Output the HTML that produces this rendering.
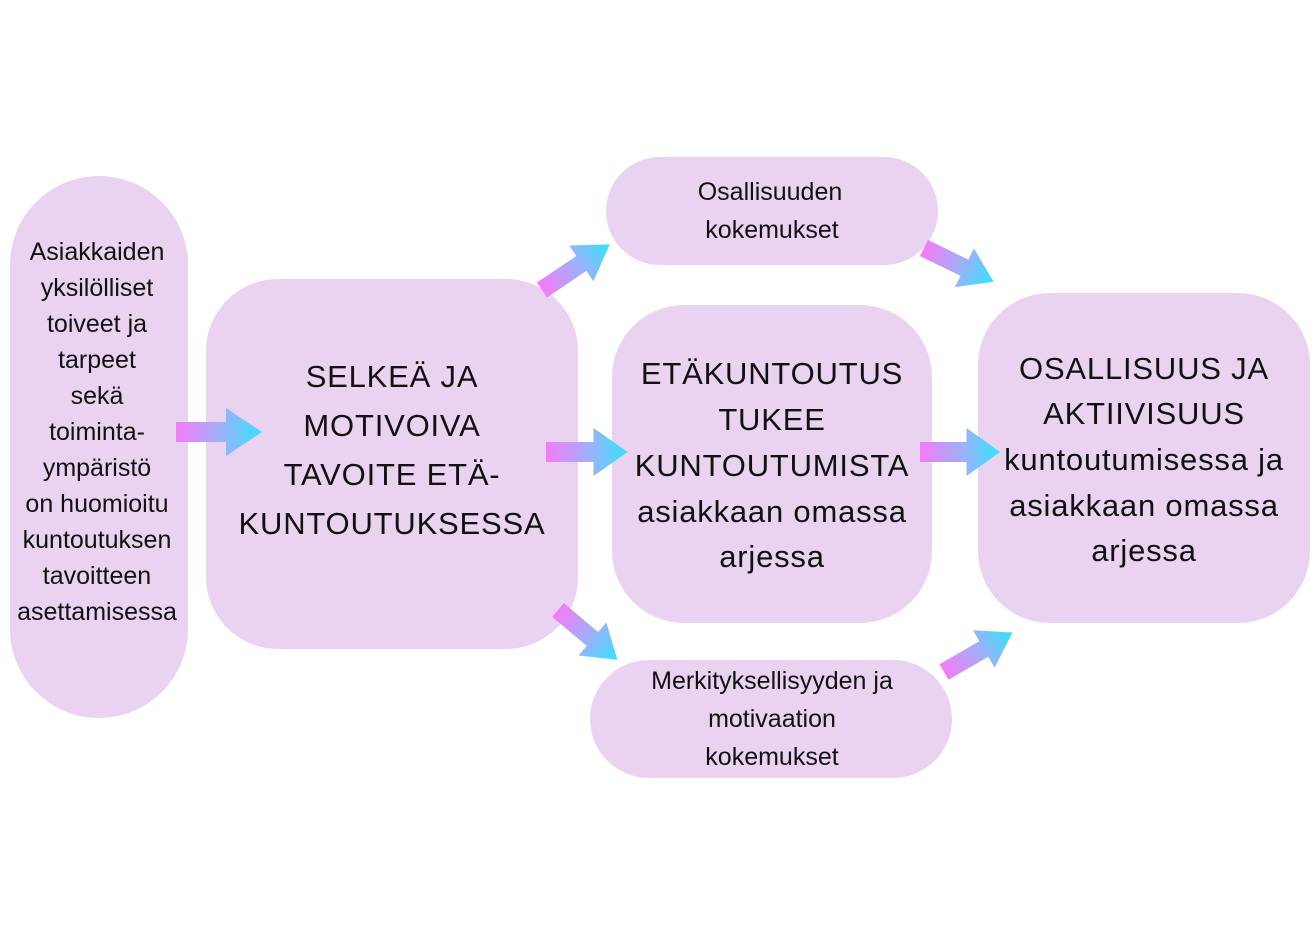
<!DOCTYPE html>
<html><head><meta charset="utf-8"><style>
body{margin:0;background:#fff;}
svg{display:block}
text{font-family:"Liberation Sans",sans-serif;fill:#111;text-anchor:middle}
</style></head><body>
<svg width="1314" height="928" viewBox="0 0 1314 928" xmlns="http://www.w3.org/2000/svg">
<defs>
<linearGradient id="g" x1="0" y1="0" x2="86" y2="0" gradientUnits="userSpaceOnUse">
<stop offset="0" stop-color="#F57BF6"/><stop offset="0.55" stop-color="#9BB2FA"/><stop offset="1" stop-color="#30E4FC"/>
</linearGradient>
<path id="a" d="M0,-10 L50,-10 L50,-24 L86,0 L50,24 L50,10 L0,10 Z" fill="url(#g)"/>
</defs>
<g fill="#E9D3F0">
<rect x="10" y="176" width="178" height="542" rx="89"/>
<rect x="206" y="279" width="372" height="370" rx="72"/>
<rect x="606" y="157" width="332" height="108" rx="54"/>
<rect x="612" y="305" width="320" height="318" rx="72"/>
<rect x="590" y="660" width="362" height="118" rx="59"/>
<rect x="978" y="293" width="332" height="330" rx="72"/>
</g>
<use href="#a" transform="translate(176,432)"/>
<use href="#a" transform="translate(546,452) scale(0.95,1)"/>
<use href="#a" transform="translate(920,452) scale(0.93,1)"/>
<use href="#a" transform="translate(542,290) rotate(-34) scale(0.95,0.9)"/>
<use href="#a" transform="translate(558,610) rotate(40) scale(0.9,0.9)"/>
<use href="#a" transform="translate(924,248) rotate(26) scale(0.9,0.9)"/>
<use href="#a" transform="translate(944,672) rotate(-30) scale(0.92,0.9)"/>
<g font-size="25">
<text x="97" y="260">Asiakkaiden</text>
<text x="97" y="296">yksilölliset</text>
<text x="97" y="332">toiveet ja</text>
<text x="97" y="368">tarpeet</text>
<text x="97" y="404">sekä</text>
<text x="97" y="440">toiminta-</text>
<text x="97" y="476">ympäristö</text>
<text x="97" y="512">on huomioitu</text>
<text x="97" y="548">kuntoutuksen</text>
<text x="97" y="584">tavoitteen</text>
<text x="97" y="620">asettamisessa</text>
<text x="770" y="200">Osallisuuden</text>
<text x="772" y="238">kokemukset</text>
<text x="772" y="689">Merkityksellisyyden ja</text>
<text x="772" y="727">motivaation</text>
<text x="772" y="765">kokemukset</text>
</g>
<g font-size="31" letter-spacing="0.8">
<text x="392" y="387">SELKEÄ JA</text>
<text x="392" y="436">MOTIVOIVA</text>
<text x="392" y="485">TAVOITE ETÄ-</text>
<text x="392" y="534">KUNTOUTUKSESSA</text>
<text x="772" y="384">ETÄKUNTOUTUS</text>
<text x="772" y="430">TUKEE</text>
<text x="772" y="476">KUNTOUTUMISTA</text>
<text x="772" y="522">asiakkaan omassa</text>
<text x="772" y="567">arjessa</text>
<text x="1144" y="379">OSALLISUUS JA</text>
<text x="1144" y="424">AKTIIVISUUS</text>
<text x="1144" y="470">kuntoutumisessa ja</text>
<text x="1144" y="516">asiakkaan omassa</text>
<text x="1144" y="561">arjessa</text>
</g>
</svg>
</body></html>
